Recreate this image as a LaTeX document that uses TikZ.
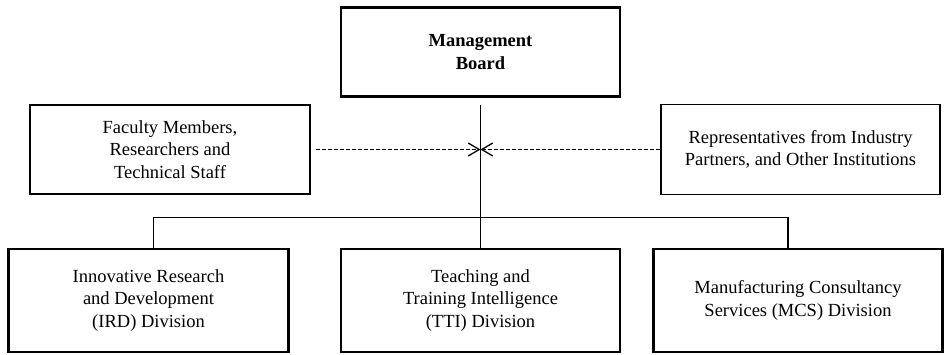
\documentclass[tikz,border=0pt]{standalone}
\usepackage{fontspec}
\setmainfont{Liberation Serif}
\usetikzlibrary{arrows.meta}

\tikzset{
  unit/.style={draw, align=center, inner sep=0pt,
    font=\fontsize{18.5}{22.5}\selectfont},
  thinbox/.style={unit, line width=1.2pt},
  thickbox/.style={unit, line width=2.6pt},
  link/.style={line width=1.4pt},
  flow/.style={line width=1.3pt, dash pattern=on 4pt off 2pt},
}

\begin{document}
\begin{tikzpicture}[x=1pt, y=-1pt, >={Straight Barb[length=11pt,width=13pt]}]
    \useasboundingbox (0,0) rectangle (945,354);

    % 1. Top level
    \node[thickbox, minimum width=279pt, minimum height=89pt] (board) at (480.5,52)
        {\bfseries Management\\ \bfseries Board};

    % 2. Side groups
    \node[thinbox, minimum width=280pt, minimum height=89pt] (staff) at (170,149.5)
        {Faculty Members,\\ Researchers and\\ Technical Staff};
    \node[thinbox, minimum width=279pt, minimum height=90pt] (partners) at (800.5,149.5)
        {Representatives from Industry\\ Partners, and Other Institutions};

    % 3. Divisions
    \node[thickbox, minimum width=280pt, minimum height=103pt] (ird) at (148.5,300.5)
        {Innovative Research\\ and Development\\ (IRD) Division};
    \node[thickbox, minimum width=279pt, minimum height=103pt] (tti) at (480.5,300.5)
        {Teaching and\\ Training Intelligence\\ (TTI) Division};
    \node[thickbox, minimum width=289pt, minimum height=103pt] (mcs) at (798,300.5)
        {Manufacturing Consultancy\\ Services (MCS) Division};

    % 4. Connectors
    \coordinate (hub) at (board.south |- staff.east);
    \coordinate (bus) at (480.5,217.5);
    \draw[link, shorten <=7pt] (board.south) -- (bus) -- (tti.north);
    \draw[link] ([xshift=5pt]ird.north) |- (bus) -| ([xshift=-10pt]mcs.north);
    \draw[flow, ->, shorten <=5pt] (staff.east) -- (hub);
    \draw[flow, ->] (partners.west) -- (hub);
\end{tikzpicture}
\end{document}
